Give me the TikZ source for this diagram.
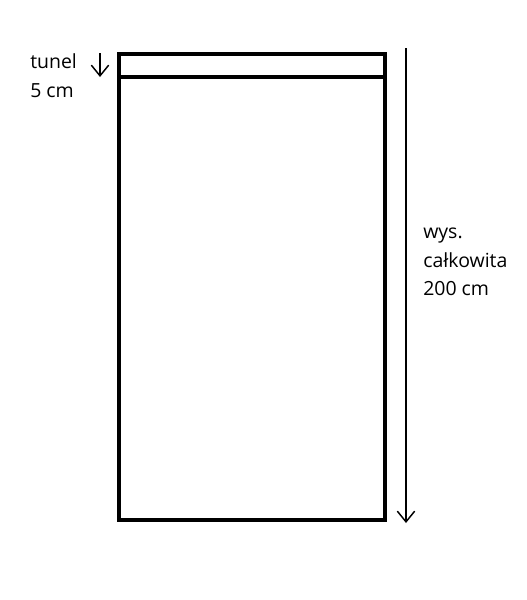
\documentclass[tikz,border=0pt]{standalone}
\usepackage{fontspec}
\setmainfont{Open Sans}
\usetikzlibrary{positioning}
\usetikzlibrary{arrows.meta}
\tikzstyle{mybag}=[draw=black,line width=3pt]
\tikzstyle{mylabel}=[inner sep=0pt,anchor=west,align=left,font=\fontsize{14.6}{21.5}\selectfont]
\tikzstyle{myarrow}=[-{Straight Barb[length=8pt,width=13pt,line width=1.1pt]},line width=1.4pt]

\begin{document}
\begin{tikzpicture}[x=0.75pt,y=-0.75pt]
  \useasboundingbox (0,0) rectangle (526,600);

  % BAG
  \coordinate (tl) at (119,53.5);
  \coordinate (br) at (385,520);
  \draw[mybag] (tl) rectangle (br);
  \coordinate (hl) at (119,77);
  \coordinate (hr) at (385,77);
  \draw[mybag] (hl) -- (hr);

  % tunel
  \coordinate (t0) at (100,53);
  \coordinate (t1) at (100,77);
  \draw[myarrow] (t0) -- (t1);
  \node[mylabel] (tunel) at (30,76) {tunel\\5 cm};

  % total height
  \coordinate (h0) at (406,48);
  \coordinate (h1) at (406,523);
  \draw[myarrow] (h0) -- (h1);
  \node[mylabel] (height) at (423,262) {wys.\\całkowita\\200 cm};
\end{tikzpicture}
\end{document}
